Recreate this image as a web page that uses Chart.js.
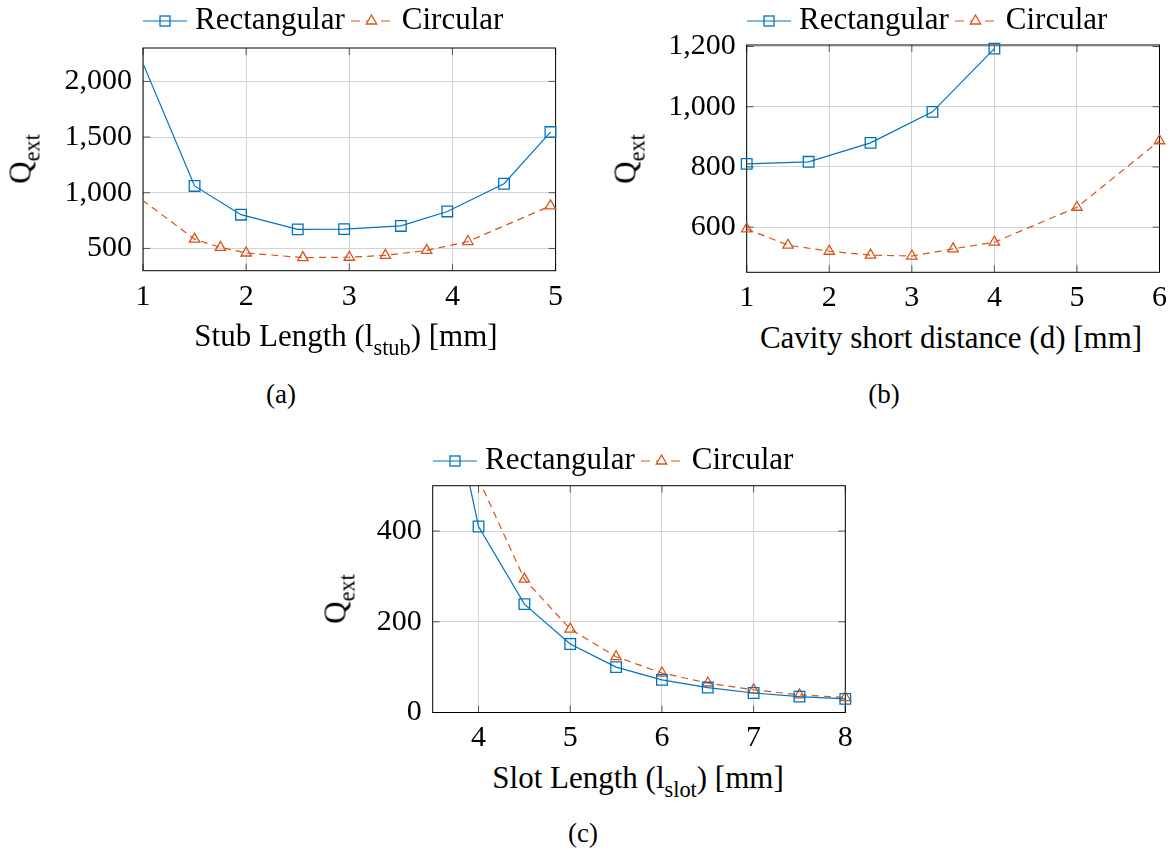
<!DOCTYPE html>
<html>
<head>
<meta charset="utf-8">
<script src="https://cdn.jsdelivr.net/npm/chart.js@4.4.1/dist/chart.umd.min.js"></script>
<style>
  body { margin:0; background:#fff; font-family:"Liberation Serif","Times New Roman",serif; color:#000; }
  #wrap { position:relative; width:1176px; height:857px; overflow:hidden; }
  canvas { position:absolute; }
  .legend { position:absolute; display:flex; align-items:flex-start; height:36px; line-height:36px; font-size:31px; white-space:nowrap; }
  .legend svg { display:block; }
  .xt, .yt, .cap { position:absolute; white-space:nowrap; line-height:1; }
  .xt { font-size:31px; transform:translateX(-50%); }
  .yt { font-size:31px; transform:translate(-50%,-50%) rotate(-90deg); }
  .cap { font-size:27px; transform:translateX(-50%); }
  .sub { font-size:0.72em; position:relative; top:9px; }
</style>
</head>
<body>
<div id="wrap">
  <canvas id="chart-a" width="590" height="320" style="left:0;top:0"></canvas>
  <canvas id="chart-b" width="586" height="320" style="left:590px;top:0"></canvas>
  <canvas id="chart-c" width="580" height="320" style="left:300px;top:440px"></canvas>

  <div class="legend" id="leg-a" style="left:143px;top:1px"></div>
  <div class="legend" id="leg-b" style="left:747px;top:1px"></div>
  <div class="legend" id="leg-c" style="left:433px;top:441px"></div>

  <div class="yt" style="left:20px;top:159px">Q<span class="sub">ext</span></div>
  <div class="yt" style="left:625px;top:159px">Q<span class="sub">ext</span></div>
  <div class="yt" style="left:335px;top:599px">Q<span class="sub">ext</span></div>

  <div class="xt" style="left:346px;top:320px">Stub Length (l<span class="sub">stub</span>) [mm]</div>
  <div class="xt" style="left:951px;top:322px">Cavity short distance (d) [mm]</div>
  <div class="xt" style="left:638px;top:762px">Slot Length (l<span class="sub">slot</span>) [mm]</div>

  <div class="cap" style="left:281px;top:381px">(a)</div>
  <div class="cap" style="left:884px;top:381px">(b)</div>
  <div class="cap" style="left:583px;top:820px">(c)</div>
</div>

<script>
const seriesNames = ['Rectangular', 'Circular'];

// (a) stub length
const stubTicksX = [1, 2, 3, 4, 5];
const stubTicksY = [500, 1000, 1500, 2000];
const stubRectX  = [0.95, 1.5, 1.95, 2.5, 2.95, 3.5, 3.95, 4.5, 4.95];
const stubRectQ  = [2270, 1061, 803, 671, 673, 702, 832, 1081, 1545];
const stubCircX  = [0.9, 1.5, 1.75, 2.0, 2.55, 3.0, 3.35, 3.75, 4.15, 4.95];
const stubCircQ  = [1000, 583, 509, 459, 418, 421, 438, 482, 562, 882];

// (b) cavity short distance
const cavTicksX = [1, 2, 3, 4, 5, 6];
const cavTicksY = [600, 800, 1000, 1200];
const cavRectX  = [1, 1.75, 2.5, 3.25, 4];
const cavRectQ  = [810, 817, 880, 983, 1193];
const cavCircX  = [1, 1.5, 2, 2.5, 3, 3.5, 4, 5, 6];
const cavCircQ  = [594, 540, 520, 507, 504, 528, 550, 666, 887];

// (c) slot length
const slotTicksX = [4, 5, 6, 7, 8];
const slotTicksY = [0, 200, 400];
const slotRectX  = [3.5, 4, 4.5, 5, 5.5, 6, 6.5, 7, 7.5, 8];
const slotRectQ  = [884, 410, 239, 151, 100, 72, 55, 43, 35, 30];
const slotCircX  = [4, 4.5, 5, 5.5, 6, 6.5, 7, 7.5, 8];
const slotCircQ  = [515, 294, 184, 123, 87, 65, 50, 39, 33];

const BLUE = '#0072BD', ORANGE = '#D95319';
const tickFont = { family: '"Liberation Serif", serif', size: 30 };
const pts = (xs, ys) => xs.map((x, i) => ({ x, y: ys[i] }));

// pgfplots-like box with inner tick marks
const framePlugin = {
  id: 'frame',
  beforeDatasetsDraw(chart) {
    const { ctx, chartArea: a, scales: { x, y } } = chart;
    ctx.save();
    ctx.strokeStyle = '#555'; ctx.lineWidth = 1;
    ctx.beginPath();
    x.ticks.forEach(t => {
      const p = x.getPixelForValue(t.value);
      ctx.moveTo(p, a.bottom); ctx.lineTo(p, a.bottom - 7);
      ctx.moveTo(p, a.top); ctx.lineTo(p, a.top + 7);
    });
    y.ticks.forEach(t => {
      const p = y.getPixelForValue(t.value);
      ctx.moveTo(a.left, p); ctx.lineTo(a.left + 7, p);
      ctx.moveTo(a.right, p); ctx.lineTo(a.right - 7, p);
    });
    ctx.stroke();
    ctx.strokeStyle = '#000';
    ctx.strokeRect(a.left, a.top, a.right - a.left, a.bottom - a.top);
    ctx.restore();
  }
};

function makeChart(id, o) {
  const inRange = c => c.raw && c.raw.x >= o.xMin && c.raw.x <= o.xMax && c.raw.y >= o.yMin && c.raw.y <= o.yMax;
  const ds = (label, data, color, style, r, dash) => ({
    label, data, borderColor: color, backgroundColor: 'rgba(0,0,0,0)',
    borderWidth: 1.2, borderDash: dash, tension: 0, clip: o.clip,
    pointStyle: style, pointRadius: c => inRange(c) ? r : 0, pointBorderWidth: 1.3,
    pointBorderColor: color, pointBackgroundColor: 'rgba(0,0,0,0)'
  });
  return new Chart(document.getElementById(id), {
    type: 'line',
    data: { datasets: [
      ds(seriesNames[0], pts(o.rectX, o.rectQ), BLUE, 'rect', 7.5, []),
      ds(seriesNames[1], pts(o.circX, o.circQ), ORANGE, 'triangle', 6, [7, 5])
    ] },
    options: {
      responsive: false, animation: false, events: [],
      layout: { padding: o.pad },
      plugins: { legend: { display: false }, tooltip: { enabled: false } },
      scales: {
        x: {
          type: 'linear', min: o.xMin, max: o.xMax,
          afterBuildTicks: s => { s.ticks = o.ticksX.map(value => ({ value })); },
          afterFit: s => { s.height = 40; },
          grid: { color: '#d4d4d4', drawTicks: false }, border: { display: false },
          ticks: { padding: 8, color: '#000', font: tickFont, maxRotation: 0, autoSkip: false }
        },
        y: {
          type: 'linear', min: o.yMin, max: o.yMax,
          afterBuildTicks: s => { s.ticks = o.ticksY.map(value => ({ value })); },
          afterFit: s => { s.width = o.yWidth; },
          grid: { color: '#d4d4d4', drawTicks: false }, border: { display: false },
          ticks: { padding: 11, color: '#000', font: tickFont, autoSkip: false,
                   callback: v => v.toLocaleString('en-US') }
        }
      }
    },
    plugins: [framePlugin]
  });
}

function legendHtml() {
  return `
    <svg width="44" height="36" style="margin-right:8px"><line x1="0" y1="20" x2="44" y2="20" stroke="${BLUE}" stroke-width="1.2"/>
      <rect x="17" y="15" width="10" height="10" fill="none" stroke="${BLUE}" stroke-width="1.3"/></svg>
    <span>${seriesNames[0]}</span>
    <svg width="41" height="36" style="margin:0 10px 0 6px"><line x1="0" y1="20" x2="41" y2="20" stroke="${ORANGE}" stroke-width="1.2" stroke-dasharray="9 6"/>
      <polygon points="20.5,14 15.3,23 25.7,23" fill="#fff" stroke="${ORANGE}" stroke-width="1.3"/></svg>
    <span>${seriesNames[1]}</span>`;
}
['leg-a', 'leg-b', 'leg-c'].forEach(id => { document.getElementById(id).innerHTML = legendHtml(); });

makeChart('chart-a', {
  rectX: stubRectX, rectQ: stubRectQ, circX: stubCircX, circQ: stubCircQ,
  ticksX: stubTicksX, ticksY: stubTicksY, xMin: 1, xMax: 5, yMin: 300, yMax: 2300,
  yWidth: 143, pad: { left: 0, top: 48, right: 34.4, bottom: 9.3 },
  clip: { left: 0, top: 0, right: 10, bottom: 10 }
});
makeChart('chart-b', {
  rectX: cavRectX, rectQ: cavRectQ, circX: cavCircX, circQ: cavCircQ,
  ticksX: cavTicksX, ticksY: cavTicksY, xMin: 1, xMax: 6, yMin: 450, yMax: 1205,
  yWidth: 156.7, pad: { left: 0, top: 45, right: 16.5, bottom: 7.7 },
  clip: false
});
makeChart('chart-c', {
  rectX: slotRectX, rectQ: slotRectQ, circX: slotCircX, circQ: slotCircQ,
  ticksX: slotTicksX, ticksY: slotTicksY, xMin: 3.5, xMax: 8, yMin: 0, yMax: 500,
  yWidth: 132.7, pad: { left: 0, top: 45.7, right: 34.7, bottom: 7.5 },
  clip: { left: 0, top: 0, right: 10, bottom: 10 }
});
</script>
</body>
</html>
